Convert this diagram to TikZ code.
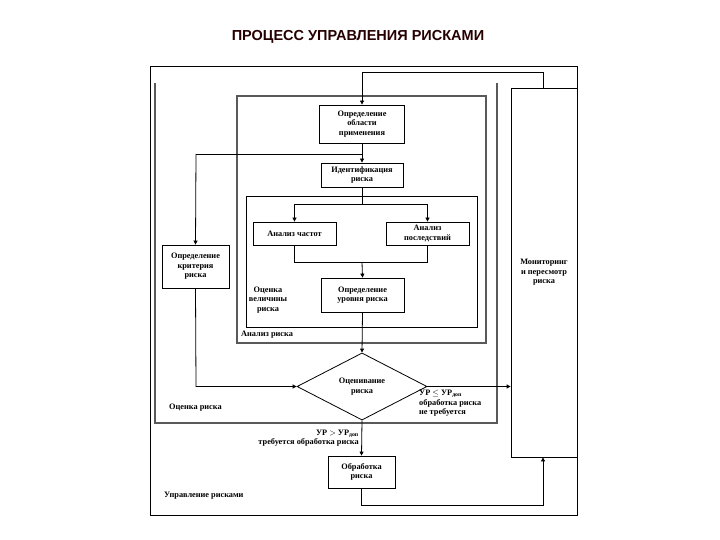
\documentclass[tikz,border=0pt]{standalone}
\usepackage{fontspec}
\setmainfont{Liberation Serif}
\newfontfamily\titlefont{Liberation Sans}
\usetikzlibrary{shapes.geometric,arrows.meta}
\begin{document}
\begin{tikzpicture}[x=1pt,y=-1pt,
  box/.style={draw,line width=0.8pt,align=center,font=\fontsize{8.3}{9.5}\selectfont\bfseries,inner sep=1pt},
  frame/.style={draw=gray!70!black,line width=1.5pt},
  lbl/.style={font=\fontsize{8.3}{9.5}\selectfont\bfseries,align=center,inner sep=1pt},
  arr/.style={-{Triangle[length=4pt,width=4pt]},line width=0.8pt},
  ln/.style={line width=0.8pt}]
\useasboundingbox (0,0) rectangle (720,540);
\node[font=\titlefont\bfseries\fontsize{14.5}{16}\selectfont,text=black!85!red] (title) at (358,37) {ПРОЦЕСС УПРАВЛЕНИЯ РИСКАМИ};
% frames
\draw[line width=0.8pt] (150,66) rectangle (577,515);
\draw[frame] (155,83) -- (155,423) -- (497,423) -- (497,83);
\draw[frame] (237,96) rectangle (486,343);
\draw[line width=0.8pt] (246,196) rectangle (477,327);
% nodes
\node[box,minimum width=85,minimum height=38] (area) at (362,124) {Определение\\области\\применения};
\node[box,minimum width=82,minimum height=24] (ident) at (362,175) {Идентификация\\риска};
\node[box,minimum width=83,minimum height=23] (freq) at (294.5,233.5) {Анализ частот};
\node[box,minimum width=83,minimum height=23] (cons) at (427.5,233.5) {Анализ\\последствий};
\node[box,minimum width=83,minimum height=34] (level) at (362.5,295) {Определение\\уровня риска};
\node[box,minimum width=67,minimum height=43] (crit) at (195.5,266.5) {Определение\\критерия\\риска};
\node[draw,line width=0.8pt,diamond,minimum width=130,minimum height=49,inner sep=0pt,lbl] (eval) at (362,386.5) {Оценивание\\риска};
\node[box,minimum width=66,minimum height=369] (mon) at (544,272.5) {Мониторинг\\и пересмотр\\риска};
\node[box,minimum width=67,minimum height=32] (proc) at (361.5,472) {Обработка\\риска};
% labels
\node[lbl] (l1) at (268,300) {Оценка\\величины\\риска};
\node[lbl,anchor=west] (l2) at (240,335) {Анализ риска};
\node[lbl,anchor=west] (l3) at (168,408) {Оценка риска};
\node[lbl,anchor=west] (l4) at (163,496) {Управление рисками};
\node[lbl,align=left,anchor=north west] (l5) at (418,389) {УР $\le$ УР\textsubscript{доп}\\обработка риска\\не требуется};
\node[lbl,align=right,anchor=east] (l6) at (360,438) {УР $>$ УР\textsubscript{доп}\\требуется обработка риска};
% connectors
\coordinate (t1) at (543,72);
\coordinate (t2) at (362,72);
\draw[arr] (mon.north -| t1) -- (t1) -- (t2) -- (area.north);
\draw[arr] (area.south) -- (ident.north);
\coordinate (b1) at (196,154);
\draw[ln] (362,154) -- (b1);
\draw[arr] (b1) -- (crit.north);
\coordinate (c1) at (196,386.5);
\draw[arr] (crit.south) -- (c1) -- (eval.west);
\coordinate (s1) at (362,204);
\draw[ln] (ident.south) -- (s1);
\draw[arr] (s1) -| (freq.north);
\draw[arr] (s1) -| (cons.north);
\coordinate (m1) at (362,262);
\draw[ln] (freq.south) |- (m1);
\draw[ln] (cons.south) |- (m1);
\draw[arr] (m1) -- (level.north);
\draw[arr] (level.south) -- (eval.north);
\draw[arr] (eval.east) -- (eval.east -| mon.west);
\draw[arr] (eval.south) -- (proc.north);
\coordinate (p1) at (361.5,505);
\coordinate (p2) at (543,505);
\draw[arr] (proc.south) -- (p1) -- (p2) -- (p2 |- mon.south);
\end{tikzpicture}
\end{document}
